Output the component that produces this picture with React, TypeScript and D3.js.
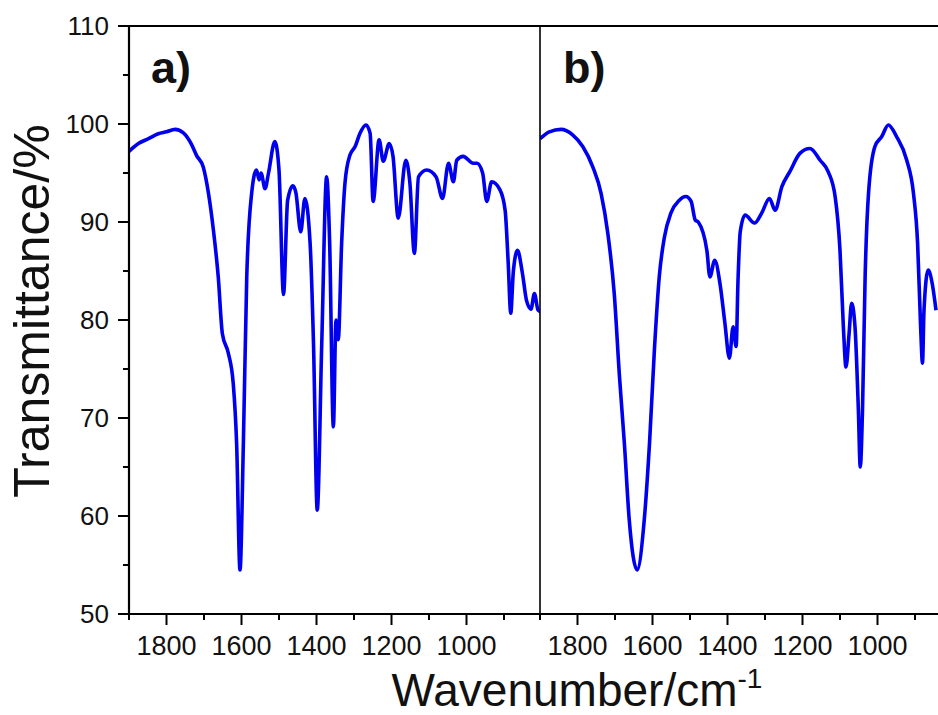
import React from "react";
import * as d3 from "d3";

// ---- Data ----
const waveA = [1900, 1875, 1848, 1822, 1800, 1777, 1755, 1733, 1720, 1702, 1688, 1675, 1662, 1651, 1635, 1622, 1613, 1604, 1595, 1586, 1573, 1560, 1553, 1548, 1537, 1528, 1511, 1500, 1488, 1477, 1463, 1455, 1442, 1431, 1417, 1408, 1398, 1386, 1373, 1365, 1355, 1348, 1342, 1333, 1324, 1311, 1297, 1284, 1268, 1257, 1249, 1233, 1222, 1206, 1196, 1182, 1162, 1151, 1139, 1128, 1106, 1081, 1064, 1048, 1035, 1026, 1009, 982, 972, 957, 946, 933, 911, 897, 889, 882, 875, 864, 851, 840, 828, 819, 809, 800];
const transA = [97.2, 98.0, 98.5, 99.0, 99.2, 99.45, 99.1, 97.9, 96.8, 95.6, 92.9, 89.2, 84.4, 78.6, 76.6, 73.5, 67.4, 54.5, 67.4, 84.4, 92.9, 95.3, 94.3, 95.0, 93.4, 95.0, 98.2, 95.3, 82.6, 92.2, 93.7, 93.0, 89.0, 92.4, 87.8, 77.6, 60.6, 77.6, 94.6, 88.0, 69.1, 80.0, 78.0, 87.8, 94.0, 96.8, 97.7, 99.05, 99.9, 99.05, 92.1, 98.4, 96.2, 98.0, 96.7, 90.4, 96.3, 94.0, 86.8, 94.6, 95.3, 94.6, 92.4, 96.0, 94.1, 96.3, 96.7, 96.0, 96.0, 95.0, 92.1, 94.1, 93.3, 91.2, 86.0, 80.7, 85.0, 87.1, 84.8, 82.0, 81.1, 82.7, 81.0, 80.8];

const waveB = [1900, 1875, 1844, 1813, 1786, 1759, 1737, 1719, 1702, 1688, 1675, 1662, 1641, 1622, 1608, 1595, 1582, 1568, 1551, 1529, 1511, 1497, 1486, 1478, 1455, 1447, 1434, 1420, 1407, 1395, 1385, 1377, 1372, 1366, 1353, 1328, 1309, 1288, 1273, 1255, 1233, 1207, 1180, 1153, 1131, 1113, 1100, 1091, 1084, 1076, 1069, 1060, 1051, 1046, 1040, 1033, 1024, 1007, 989, 971, 949, 922, 904, 893, 885, 880, 876, 865, 854, 844];
const transB = [98.5, 99.2, 99.45, 98.9, 97.7, 95.6, 92.9, 88.8, 82.7, 74.2, 67.4, 59.6, 54.5, 59.6, 67.4, 76.9, 84.4, 88.5, 90.9, 92.2, 92.6, 92.1, 90.2, 90.0, 87.1, 84.4, 86.1, 83.7, 79.7, 76.1, 79.3, 77.3, 84.0, 89.0, 90.7, 89.9, 90.9, 92.4, 91.2, 93.6, 95.2, 97.0, 97.5, 96.3, 95.1, 92.6, 87.1, 79.3, 75.2, 78.5, 81.7, 79.3, 70.8, 65.0, 70.8, 84.4, 92.9, 97.7, 98.7, 99.9, 98.7, 96.3, 92.9, 87.8, 79.3, 75.6, 81.0, 85.1, 83.7, 81.0];

const yTicksMajor = [50, 60, 70, 80, 90, 100, 110];
const yTicksMinor = [55, 65, 75, 85, 95, 105];
const xTicksMajor = [1800, 1600, 1400, 1200, 1000];
const xTicksMinor = [1900, 1700, 1500, 1300, 1100, 900];
const panelLabels = ["a)", "b)"];

const W = 938;
const H = 715;
const FONT = "'Liberation Sans', Arial, sans-serif";
const BLUE = "#0000ee";

export default function App() {
  const top = 26;
  const bottom = 614;
  const leftA = 129;
  const divider = 540;
  const pxPer = 0.375;

  const y = d3.scaleLinear().domain([50, 110]).range([bottom, top]);
  const xA = d3.scaleLinear().domain([1900, 800]).range([leftA, leftA + 1100 * pxPer]);
  const xB = d3.scaleLinear().domain([1900, 800]).range([divider, divider + 1100 * pxPer]);

  const makeLine = (xs: d3.ScaleLinear<number, number>) =>
    d3
      .line<[number, number]>()
      .x((d) => xs(d[0]))
      .y((d) => y(d[1]))
      .curve(d3.curveMonotoneX);

  const dA = makeLine(xA)(waveA.map((w, i) => [w, transA[i]] as [number, number])) || "";
  const dB = makeLine(xB)(waveB.map((w, i) => [w, transB[i]] as [number, number])) || "";

  const panels = [
    { x: xA, label: panelLabels[0], lx: 151 },
    { x: xB, label: panelLabels[1], lx: 563 },
  ];

  return (
    <svg
      width={W}
      height={H}
      style={{ position: "absolute", left: 0, top: 0, background: "#fff" }}
      xmlns="http://www.w3.org/2000/svg"
    >
      <defs>
        <clipPath id="clipA">
          <rect x={leftA} y={0} width={divider - leftA} height={H} />
        </clipPath>
        <clipPath id="clipB">
          <rect x={divider} y={0} width={W - divider} height={H} />
        </clipPath>
      </defs>
      <rect x={0} y={0} width={W} height={H} fill="#fff" />

      {/* spectra */}
      <path d={dA} fill="none" stroke={BLUE} strokeWidth={3.6} strokeLinejoin="round" clipPath="url(#clipA)" />
      <path d={dB} fill="none" stroke={BLUE} strokeWidth={3.6} strokeLinejoin="round" clipPath="url(#clipB)" />

      {/* frame */}
      <line x1={leftA} x2={W} y1={top} y2={top} stroke="#000" strokeWidth={2} />
      <line x1={leftA} x2={W} y1={bottom} y2={bottom} stroke="#000" strokeWidth={2.2} />
      <line x1={leftA} x2={leftA} y1={top} y2={bottom} stroke="#000" strokeWidth={2.2} />
      <line x1={divider} x2={divider} y1={top} y2={bottom} stroke="#000" strokeWidth={1.6} />

      {/* y ticks */}
      {yTicksMajor.map((t) => (
        <g key={"ym" + t}>
          <line x1={leftA - 11} x2={leftA} y1={y(t)} y2={y(t)} stroke="#000" strokeWidth={2} />
          <text x={leftA - 20} y={y(t) + 9} textAnchor="end" fontFamily={FONT} fontSize={26} fill="#111">
            {t}
          </text>
        </g>
      ))}
      {yTicksMinor.map((t) => (
        <line key={"yn" + t} x1={leftA - 6} x2={leftA} y1={y(t)} y2={y(t)} stroke="#000" strokeWidth={2} />
      ))}

      {/* x ticks for both panels */}
      {panels.map((p, pi) => (
        <g key={"px" + pi}>
          {xTicksMajor.map((t) => (
            <g key={"xm" + t}>
              <line x1={p.x(t)} x2={p.x(t)} y1={bottom} y2={bottom + 11} stroke="#000" strokeWidth={2} />
              <text x={p.x(t)} y={bottom + 41} textAnchor="middle" fontFamily={FONT} fontSize={27} fill="#111">
                {t}
              </text>
            </g>
          ))}
          {xTicksMinor.map((t) => (
            <line key={"xn" + t} x1={p.x(t)} x2={p.x(t)} y1={bottom} y2={bottom + 6} stroke="#000" strokeWidth={2} />
          ))}
          <text x={p.lx} y={83} fontFamily={FONT} fontWeight="bold" fontSize={45} fill="#111">
            {p.label}
          </text>
        </g>
      ))}

      {/* axis titles */}
      <text
        transform={`translate(49, 311) rotate(-90)`}
        textAnchor="middle"
        fontFamily={FONT}
        fontSize={50}
        fill="#111"
      >
        Transmittance/%
      </text>
      <text x={577} y={706} textAnchor="middle" fontFamily={FONT} fontSize={46} fill="#111">
        Wavenumber/cm
        <tspan fontSize={28} dy={-18}>
          -1
        </tspan>
      </text>
    </svg>
  );
}
